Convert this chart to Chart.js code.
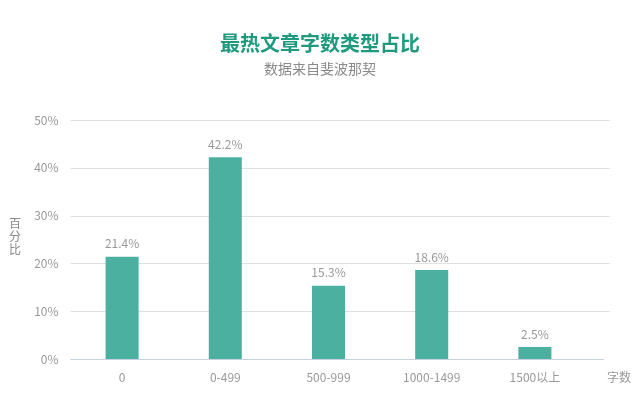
<!DOCTYPE html>
<html><head><meta charset="utf-8">
<script src="https://cdn.jsdelivr.net/npm/chart.js@4/dist/chart.umd.min.js"></script>
<style>html,body{margin:0;padding:0;background:#fff}#w{width:640px;height:400px}</style>
</head><body><div id="w"><canvas id="c"></canvas></div>
<script>
const categories = ['0', '0-499', '500-999', '1000-1499', '1500以上'];
const values = [21.4, 42.2, 15.3, 18.6, 2.5];
const yTicks = [0, 10, 20, 30, 40, 50];
const titleText = '最热文章字数类型占比';
const subtitleText = '数据来自斐波那契';
const yName = '百分比';
const xName = '字数';

const FONT = '"Noto Sans CJK SC", "Noto Sans", sans-serif';

const deco = {
  id: 'deco',
  beforeDatasetsDraw(chart) {
    const ctx = chart.ctx, y = chart.scales.y, a = chart.chartArea;
    ctx.save();
    ctx.lineWidth = 1;
    yTicks.forEach(v => {
      const py = Math.round(y.getPixelForValue(v)) + 0.5;
      ctx.beginPath();
      if (v === 0) { ctx.strokeStyle = '#c7d0dc'; ctx.moveTo(a.left, py); ctx.lineTo(604, py); }
      else { ctx.strokeStyle = '#e0e0e0'; ctx.moveTo(a.left, py); ctx.lineTo(610, py); }
      ctx.stroke();
    });
    ctx.restore();
  },
  afterDatasetsDraw(chart) {
    const ctx = chart.ctx, a = chart.chartArea;
    ctx.save();
    // title
    ctx.textAlign = 'center'; ctx.textBaseline = 'middle';
    ctx.fillStyle = '#1f9a7f';
    ctx.font = 'bold 20px ' + FONT;
    ctx.fillText(titleText, 320, 43);
    ctx.fillStyle = '#8a8a8a';
    ctx.font = '14px ' + FONT;
    ctx.fillText(subtitleText, 320, 69);
    // value labels
    ctx.fillStyle = '#999';
    ctx.font = '12px ' + FONT;
    const meta = chart.getDatasetMeta(0);
    meta.data.forEach((bar, i) => {
      ctx.fillText(values[i].toFixed(1) + '%', bar.x, bar.y - 13);
    });
    // y axis name, vertical stacked
    ctx.fillStyle = '#888';
    ctx.font = '12px ' + FONT;
    const chars = Array.from(yName);
    const cy = 236, lh = 13;
    chars.forEach((ch, i) => {
      ctx.fillText(ch, 15, cy + (i - (chars.length - 1) / 2) * lh);
    });
    // x axis name
    ctx.textAlign = 'left';
    ctx.fillStyle = '#999';
    ctx.fillText(xName, 607, 377);
    ctx.restore();
  }
};

new Chart(document.getElementById('c'), {
  type: 'bar',
  data: {
    labels: categories,
    datasets: [{
      data: values,
      backgroundColor: '#4bb0a0',
      barPercentage: 0.32,
      categoryPercentage: 1.0
    }]
  },
  options: {
    responsive: true,
    maintainAspectRatio: false,
    animation: false,
    devicePixelRatio: 1,
    layout: { padding: { top: 120, right: 53.5, left: 1, bottom: 0 } },
    plugins: { legend: { display: false }, tooltip: { enabled: false }, title: { display: false } },
    scales: {
      x: {
        grid: { display: false, drawTicks: false },
        border: { display: false },
        ticks: { color: '#999', font: { family: FONT, size: 12 }, padding: 11, maxRotation: 0, autoSkip: false },
        afterFit(s) { s.height = 41; }
      },
      y: {
        min: 0, max: 50,
        grid: { display: false, drawTicks: false },
        border: { display: false },
        ticks: {
          stepSize: 10, color: '#999', padding: 12,
          font: { family: FONT, size: 12 },
          callback: v => v + '%'
        },
        afterFit(s) { s.width = 69.5; }
      }
    }
  },
  plugins: [deco]
});
</script></body></html>
